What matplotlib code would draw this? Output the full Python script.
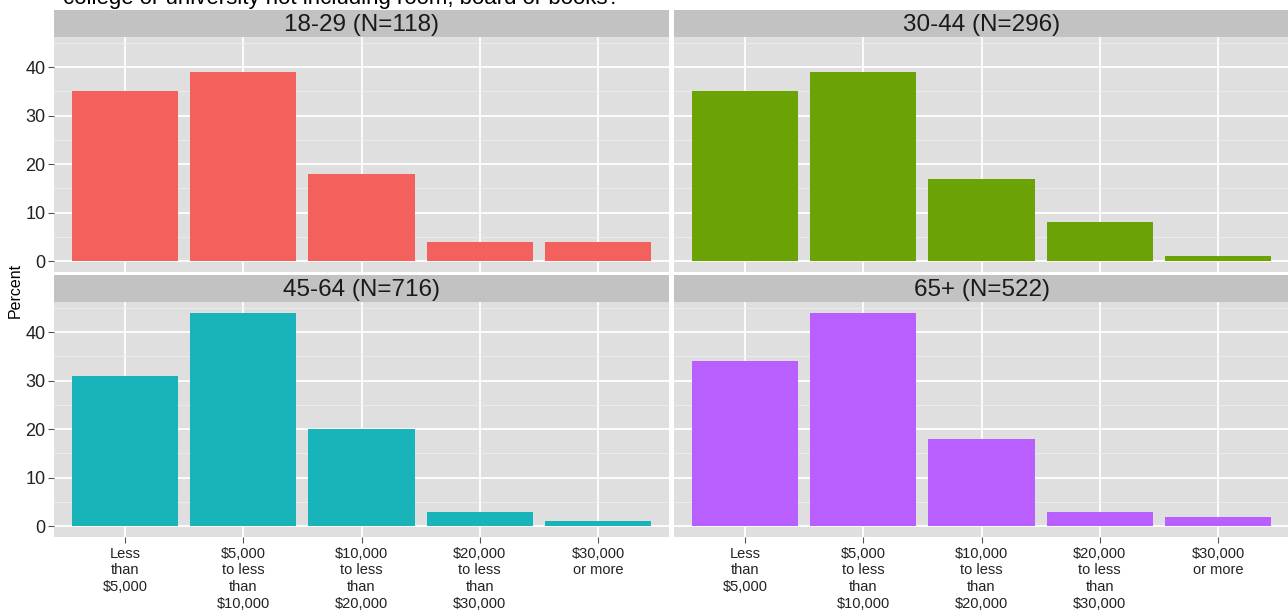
import numpy as np
import matplotlib.pyplot as plt

plt.rcParams['font.family'] = ['Liberation Sans', 'DejaVu Sans']

categories = ['Less\nthan\n$5,000', '$5,000\nto less\nthan\n$10,000', '$10,000\nto less\nthan\n$20,000',
              '$20,000\nto less\nthan\n$30,000', '$30,000\nor more']
groups = ['18-29 (N=118)', '30-44 (N=296)', '45-64 (N=716)', '65+ (N=522)']
pct_18_29 = [35, 39, 18, 4, 4]
pct_30_44 = [35, 39, 17, 8, 1]
pct_45_64 = [31, 44, 20, 3, 1]
pct_65 = [34, 44, 18, 3, 2]
values = [pct_18_29, pct_30_44, pct_45_64, pct_65]
colors = ['#F4615D', '#6BA306', '#18B4BA', '#BA5FFF']

W, H = 1288, 614
fig = plt.figure(figsize=(W / 100, H / 100), dpi=100)


def box(x0, y0, x1, y1):
    return [x0 / W, 1 - y1 / H, (x1 - x0) / W, (y1 - y0) / H]


# pixel layout of the facets
cols = [(54, 669), (674, 1289)]
rows = [(10, 37, 272), (275, 302, 537)]

x = np.arange(1, len(categories) + 1)
for i in range(4):
    r, c = divmod(i, 2)
    x0, x1 = cols[c]
    s0, p0, p1 = rows[r]

    ax = fig.add_axes(box(x0, p0, x1, p1))
    ax.set_facecolor('#DFDFDF')
    ax.bar(x, values[i], width=0.9, color=colors[i], zorder=3)
    ax.set_xlim(0.4, 5.6)
    ax.set_ylim(-2.2, 46.2)
    ax.set_yticks([0, 10, 20, 30, 40])
    ax.set_yticks([5, 15, 25, 35, 45], minor=True)
    ax.set_xticks(x)
    ax.grid(which='major', color='white', linewidth=1.3, zorder=1)
    ax.grid(which='minor', axis='y', color='#EEEEEE', linewidth=0.6, zorder=1)
    ax.tick_params(which='minor', length=0)
    ax.tick_params(which='major', length=4, color='#555555', labelcolor='#222222')
    for sp in ax.spines.values():
        sp.set_visible(False)
    if c == 0:
        ax.tick_params(axis='y', labelsize=13, pad=2)
    else:
        ax.tick_params(axis='y', length=0, labelleft=False)
    if r == 1:
        ax.set_xticklabels(categories, fontsize=10.5, linespacing=1.25, va='top')
        ax.tick_params(axis='x', pad=3)
    else:
        ax.tick_params(axis='x', length=0, labelbottom=False)

    sx = fig.add_axes(box(x0, s0, x1, p0))
    sx.set_facecolor('#C2C2C2')
    sx.set_xticks([])
    sx.set_yticks([])
    for sp in sx.spines.values():
        sp.set_visible(False)
    sx.text(0.5, 0.45, groups[i], ha='center', va='center', fontsize=17.5,
            color='#1A1A1A', transform=sx.transAxes)

fig.text(15 / W, 1 - 290 / H, 'Percent', rotation=90, ha='center', va='center', fontsize=11.5)
fig.text(63 / W, 1 - 4 / H, 'college or university not including room, board or books?',
         ha='left', va='baseline', fontsize=16)

fig.savefig('out.png', dpi=100)
